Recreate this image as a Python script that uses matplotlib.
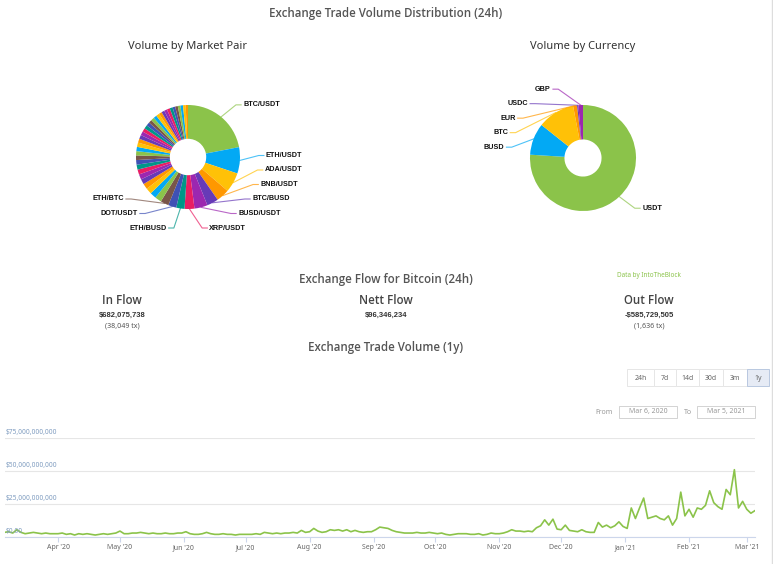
import numpy as np
import pandas as pd
import matplotlib
matplotlib.use("Agg")
import matplotlib.pyplot as plt
import matplotlib.dates as mdates
from matplotlib.patches import Rectangle
from matplotlib.lines import Line2D

plt.rcParams['font.family'] = ['Noto Sans', 'DejaVu Sans']
HEAD = ['Open Sans', 'Noto Sans', 'DejaVu Sans']
BOLD = ['Liberation Sans', 'DejaVu Sans']

W, H = 773, 564

# ---- data ----
pair_labels = ["BTC/USDT", "ETH/USDT", "ADA/USDT", "BNB/USDT", "BTC/BUSD",
               "BUSD/USDT", "XRP/USDT", "ETH/BUSD", "DOT/USDT", "ETH/BTC"]
pair_values = [21.5, 8.0, 6.0, 4.0, 3.5, 4.0, 3.0, 2.5, 2.5, 2.5]
# the many small unlabelled pairs, largest first
other_pair_values = [2.0, 1.9, 1.8, 1.7, 1.6, 1.6, 1.5, 1.5, 1.4, 1.4, 1.3, 1.3,
                     1.3, 1.2, 1.2, 1.2, 1.1, 1.1, 1.1, 1.0, 1.0, 1.0, 1.0, 0.9,
                     0.9, 0.9, 0.9, 0.9, 0.8, 0.8, 0.8, 0.8, 0.8, 0.7]

currency_labels = ["USDT", "BUSD", "BTC", "EUR", "USDC", "GBP"]
currency_values = [76.0, 9.7, 11.3, 1.2, 0.4, 1.4]

palette = ["#8bc34a", "#03a9f4", "#ffc107", "#ff9800", "#673ab7",
           "#9c27b0", "#e91e63", "#009688", "#3f51b5", "#795548"]

flow_titles = ["In Flow", "Nett Flow", "Out Flow"]
flow_amounts = ["$682,075,738", "$96,346,234", "-$585,729,505"]
flow_tx = ["(38,049 tx)", "", "(1,636 tx)"]

# daily trade volume in billions USD, one reading every 2 days from Mar 6 2020
start_date = "2020-03-06"
volume_bn = [
    3.5, 4.0, 3.0, 5.5, 3.5, 2.5, 3.0, 3.5, 3.0, 2.5, 3.0, 2.5, 2.5,
    2.5, 3.0, 2.0, 2.5, 1.5, 2.5, 2.0, 2.5, 2.0, 1.5, 2.0, 2.5, 2.0, 2.5, 3.0,
    4.5, 2.5, 2.5, 3.0, 3.0, 3.5, 3.0, 2.5, 3.0, 2.5, 2.5, 3.0, 2.5, 2.5, 3.0, 3.0,
    4.0, 2.5, 2.0, 2.0, 2.5, 3.5, 2.5, 2.0, 2.0, 2.5, 2.0, 2.0, 1.5, 2.0, 2.0,
    2.0, 2.0, 2.5, 2.0, 3.5, 3.0, 2.5, 3.0, 2.5, 3.0, 3.0, 3.5, 3.0, 5.0, 3.5,
    4.0, 6.5, 4.5, 3.5, 4.0, 5.5, 5.0, 5.5, 4.5, 5.5, 4.0, 5.0, 4.0, 3.5, 4.0, 4.0,
    5.5, 7.5, 7.0, 6.5, 5.0, 4.0, 3.5, 3.0, 3.0, 3.0, 3.5, 3.0, 3.0, 3.5, 3.0,
    2.5, 3.0, 2.0, 1.5, 2.0, 2.5, 2.5, 2.5, 2.0, 2.0, 2.5, 1.5, 2.0, 3.0, 2.5,
    2.5, 3.0, 4.0, 5.5, 4.5, 4.5, 4.0, 4.5, 4.0, 7.0, 8.5, 13.0, 9.0, 13.5, 6.0,
    5.5, 9.0, 5.0, 4.5, 4.0, 5.5, 4.0, 3.5, 3.5, 11.0, 7.5, 9.0, 7.0, 8.5, 11.5, 8.0,
    6.5, 22.0, 14.0, 22.0, 29.5, 14.0, 15.0, 16.0, 14.0, 13.0, 16.0, 9.0, 14.0, 34.0, 16.0,
    21.0, 15.0, 22.0, 21.0, 24.0, 35.0, 26.0, 23.0, 21.0, 36.0, 32.0, 51.0, 22.0,
    27.0, 21.0, 18.0, 20.0,
]
y_ticks = [0, 25e9, 50e9, 75e9]
y_tick_labels = ["$0.00", "$25,000,000,000", "$50,000,000,000", "$75,000,000,000"]

range_buttons = ["24h", "7d", "14d", "30d", "3m", "1y"]
date_from, date_to = "Mar 6, 2020", "Mar 5, 2021"


def fx(x):
    return x / W


def fy(y):
    return 1 - y / H


fig = plt.figure(figsize=(W / 100, H / 100), dpi=100)
fig.patch.set_facecolor("white")


def stack(ys, s, lim):
    # push labels apart vertically, top to bottom order
    out = list(ys)
    for i in range(len(out)):
        top = lim if i == 0 else out[i - 1] - s
        out[i] = min(out[i], top)
    for i in range(len(out) - 1, -1, -1):
        bot = -lim if i == len(out) - 1 else out[i + 1] + s
        out[i] = max(out[i], bot)
    return out


def donut(cx, cy, r, values, labels, colors, box=135):
    ax = fig.add_axes([fx(cx - box), fy(cy + box), 2 * box / W, 2 * box / H])
    wedges, _ = ax.pie(values, colors=colors, startangle=90, counterclock=False,
                       radius=1, wedgeprops=dict(width=0.65, linewidth=0))
    lim = box / r
    ax.set_xlim(-lim, lim)
    ax.set_ylim(-lim, lim)
    ax.set_aspect("equal")
    ax.axis("off")

    s = 14.5 / r
    ylim = 71 / r
    info = []
    for w, lab in zip(wedges, labels):
        if not lab:
            continue
        a = np.deg2rad((w.theta1 + w.theta2) / 2)
        info.append((np.cos(a), np.sin(a), lab, w.get_facecolor()))
    for side in (1, -1):
        grp = [t for t in info if (t[0] >= 0) == (side > 0)]
        grp.sort(key=lambda t: -t[1])
        ys = stack([1.3 * t[1] for t in grp], s, ylim)
        for (ux, uy, lab, col), ly in zip(grp, ys):
            lx = side * 1.5 * np.sqrt(max(0.0, 1 - (ly / 1.42) ** 2))
            lx = side * max(abs(lx), 0.28)
            xs = [ux * 1.0, lx - side * 0.14, lx - side * 0.04]
            yv = [uy * 1.0, ly, ly]
            ax.plot(xs, yv, color=col, lw=0.8, alpha=0.7, clip_on=False)
            ax.text(lx, ly, lab, ha="left" if side > 0 else "right", va="center",
                    fontsize=5.2, fontweight="bold", family=BOLD, color="#111111")
    return ax


def heading(x, y, txt, size=8.3, color="#555555"):
    fig.text(fx(x), fy(y), txt, ha="center", va="center", fontsize=size,
             fontweight="semibold", family=HEAD, color=color)


# ---- distribution donuts ----
heading(386, 14, "Exchange Trade Volume Distribution (24h)")
fig.text(fx(188), fy(47), "Volume by Market Pair", ha="center", va="center",
         fontsize=8, color="#333333")
fig.text(fx(583), fy(47), "Volume by Currency", ha="center", va="center",
         fontsize=8, color="#333333")

all_pairs = pair_values + other_pair_values
pair_cols = [palette[i % len(palette)] for i in range(len(all_pairs))]
donut(188, 157, 52, all_pairs, pair_labels + [""] * len(other_pair_values), pair_cols)

cur_cols = [palette[i] for i in range(len(currency_values))]
donut(583, 158, 53, currency_values, currency_labels, cur_cols)

# ---- exchange flow ----
heading(386, 279, "Exchange Flow for Bitcoin (24h)")
fig.text(fx(649), fy(276), "Data by IntoTheBlock", ha="center", va="center",
         fontsize=4.6, color="#8bc34a")
for xc, t, amt, tx in zip([122, 386, 649], flow_titles, flow_amounts, flow_tx):
    heading(xc, 300, t, size=8.3, color="#444444")
    fig.text(fx(xc), fy(315), amt, ha="center", va="center", fontsize=5.5,
             fontweight="bold", family=BOLD, color="#333333")
    if tx:
        fig.text(fx(xc), fy(326), tx, ha="center", va="center", fontsize=5.1,
                 color="#555555")

heading(386, 348, "Exchange Trade Volume (1y)")

# range buttons
btn_edges = [627, 654, 676, 699, 723, 747, 769]
for i, lab in enumerate(range_buttons):
    x0, x1 = btn_edges[i], btn_edges[i + 1]
    active = lab == "1y"
    fig.add_artist(Rectangle((fx(x0), fy(386)), (x1 - x0) / W, 17 / H,
                             transform=fig.transFigure,
                             facecolor="#e6ebf5" if active else "white",
                             edgecolor="#b9c8e0" if active else "#e6e6e6", lw=0.7))
    fig.text(fx((x0 + x1) / 2), fy(378), lab, ha="center", va="center",
             fontsize=5, color="#666666")

fig.text(fx(604), fy(412), "From", ha="center", va="center", fontsize=5, color="#999999")
fig.text(fx(688), fy(412), "To", ha="center", va="center", fontsize=5, color="#999999")
for x0, x1, txt in [(619, 677, date_from), (697, 755, date_to)]:
    fig.add_artist(Rectangle((fx(x0), fy(418)), (x1 - x0) / W, 12 / H,
                             transform=fig.transFigure, facecolor="white",
                             edgecolor="#cccccc", lw=0.6))
    fig.text(fx((x0 + x1) / 2), fy(412), txt, ha="center", va="center",
             fontsize=5, color="#999999")

# ---- 1y volume line ----
ax = fig.add_axes([fx(4.5), fy(537), (755 - 4.5) / W, (537 - 438) / H])
dates = pd.date_range(start_date, periods=len(volume_bn), freq="2D")
ax.plot(dates, np.array(volume_bn) * 1e9, color="#8bc34a", lw=1.2)
ax.set_xlim(dates[0], dates[-1])
ax.set_ylim(0, 75e9)
ax.set_yticks(y_ticks)
ax.tick_params(axis="y", length=0, labelleft=False)
ax.grid(axis="y", color="#e6e6e6", lw=0.8)
ax.set_axisbelow(True)
for sp in ["top", "right", "left"]:
    ax.spines[sp].set_visible(False)
ax.spines["bottom"].set_color("#ccd6eb")
ax.xaxis.set_major_locator(mdates.MonthLocator())
ax.xaxis.set_major_formatter(mdates.DateFormatter("%b '%y"))
ax.tick_params(axis="x", length=3.6, color="#ccd6eb", labelsize=5,
               labelcolor="#666666", pad=1.5)
for v, lab in zip(y_ticks, y_tick_labels):
    ax.annotate(lab, xy=(0, v), xycoords=("axes fraction", "data"), xytext=(1.1, 1.2),
                textcoords="offset points", fontsize=4.8, color="#7f9cc0", va="bottom")

fig.add_artist(Line2D([fx(772), fx(772)], [0, 1], transform=fig.transFigure,
                      color="#dddddd", lw=1))

fig.savefig("out.png", dpi=100)
